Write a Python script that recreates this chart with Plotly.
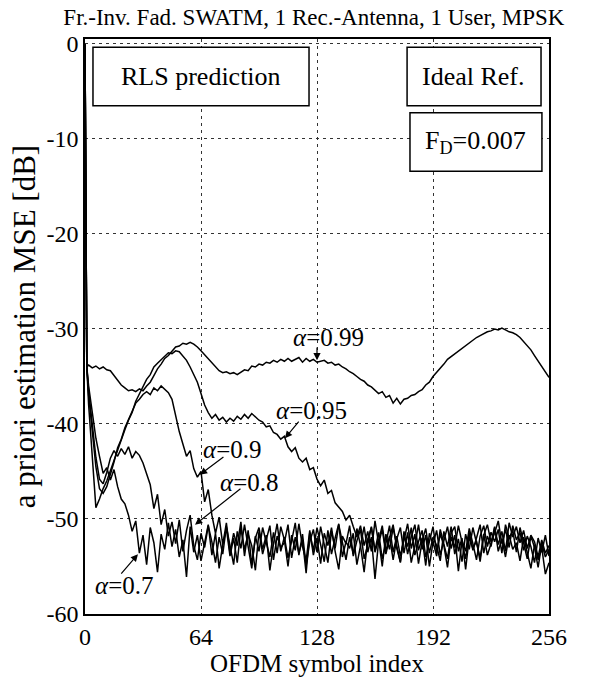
import plotly.graph_objects as go

# OFDM symbol index: 0, 1, then every 2nd symbol
symbol_index = [0, 1] + list(range(2, 257, 2))

mse_099 = [0, -34.0,
    -33.8, -34.1, -33.9, -34.2, -34.0, -34.3, -34.4, -34.9,
    -35.4, -35.9, -36.2, -36.5, -36.4, -36.6, -36.3, -36.5,
    -36.0, -35.6, -34.9, -34.2, -33.7, -33.1, -32.8, -32.3,
    -31.9, -31.8, -31.5, -31.6, -31.4, -31.6, -31.9, -32.3,
    -32.7, -33.1, -33.6, -34.0, -34.4, -34.6, -34.5, -34.7,
    -34.6, -34.8, -34.5, -34.3, -34.4, -33.9, -34.0, -33.7,
    -33.8, -33.5, -33.6, -33.3, -33.5, -33.2, -33.4, -33.1,
    -33.4, -33.2, -33.0, -33.5, -33.1, -33.4, -33.2, -33.5,
    -33.4, -33.3, -33.6, -33.5, -33.8, -33.7, -34.0, -34.2,
    -34.5, -34.7, -35.0, -35.3, -35.5, -35.9, -36.1, -36.4,
    -36.8, -36.6, -37.2, -37.0, -37.8, -37.3, -37.9, -37.4,
    -37.3, -37.0, -36.9, -36.6, -36.4, -35.9, -35.6, -35.0,
    -34.6, -34.1, -33.7, -33.2, -32.9, -32.6, -32.3, -32.0,
    -31.8, -31.5, -31.2, -30.9, -30.7, -30.5, -30.3, -30.2,
    -30.0, -30.1, -29.9, -30.1, -30.3, -30.4, -30.6, -30.9,
    -31.3, -31.7, -32.2, -32.8, -33.4, -33.9, -34.5, -35.1]

mse_095 = [0, -34.0,
    -38.0, -44.0, -48.8, -47.9, -46.8, -46.0, -44.9, -43.8,
    -42.6, -41.5, -40.6, -39.6, -38.8, -37.6, -36.8, -36.0,
    -35.3, -34.8, -34.0, -33.6, -33.2, -32.9, -32.5, -32.6,
    -32.3, -32.4, -32.8, -33.3, -34.0, -34.8, -35.6, -36.8,
    -38.0, -38.8, -39.4, -39.0, -39.6, -39.3, -39.8, -39.4,
    -39.7, -39.2, -39.5, -39.0, -39.4, -38.9, -39.3, -39.6,
    -39.8, -40.3, -40.2, -40.9, -41.1, -41.6, -41.3, -42.4,
    -42.9, -42.5, -43.6, -44.0, -43.6, -44.8, -44.6, -45.8,
    -46.5, -45.9, -47.3, -47.0, -48.3, -48.7, -49.2, -50.1,
    -49.6, -50.8, -51.9, -50.7, -52.8, -51.3, -53.4, -50.2,
    -52.6, -51.1, -53.7, -52.0, -50.6, -53.1, -54.5, -51.8,
    -52.9, -50.9, -53.8, -52.4, -51.2, -54.0, -52.3, -50.8,
    -53.5, -51.6, -52.8, -55.1, -51.9, -53.0, -50.7, -52.6,
    -54.2, -51.4, -53.3, -52.0, -50.6, -53.6, -51.8, -52.9,
    -50.9, -52.7, -51.3, -53.4, -50.4, -51.9, -50.8, -52.5,
    -51.2, -53.1, -51.7, -52.4, -54.0, -52.2, -53.6, -52.8]

mse_090 = [0, -34.0,
    -37.0, -41.0, -44.5, -46.8, -47.3, -46.6, -45.4, -44.0,
    -42.5, -41.6, -40.4, -39.5, -38.6, -37.8, -37.4, -36.9,
    -36.6, -36.9, -36.2, -36.5, -36.0, -36.4, -36.7, -37.4,
    -39.2, -40.8, -42.1, -43.4, -42.8, -44.7, -45.6, -45.0,
    -48.2, -46.9, -49.6, -51.5, -49.8, -52.7, -50.4, -53.6,
    -51.5, -52.8, -50.3, -53.9, -51.2, -54.8, -52.0, -50.9,
    -53.2, -51.7, -55.4, -52.6, -50.5, -53.4, -51.9, -54.1,
    -52.3, -50.4, -53.8, -51.6, -54.9, -52.4, -51.1, -53.5,
    -50.8, -52.9, -54.6, -51.3, -53.1, -50.6, -52.5, -54.3,
    -51.9, -53.7, -51.0, -52.8, -55.6, -52.1, -50.9, -53.3,
    -51.4, -54.2, -52.6, -50.7, -53.5, -51.8, -53.9, -52.2,
    -50.5, -53.1, -51.6, -54.7, -52.3, -51.0, -53.6, -51.9,
    -52.8, -54.4, -51.3, -52.9, -50.8, -53.7, -52.1, -54.5,
    -51.6, -53.2, -50.9, -52.5, -54.1, -51.7, -50.6, -52.4,
    -51.5, -50.2, -52.6, -51.1, -53.0, -50.7, -52.2, -51.4,
    -53.3, -51.8, -52.9, -54.6, -52.0, -53.5, -51.7, -53.9]

mse_080 = [0, -34.0,
    -36.5, -40.0, -43.5, -45.8, -46.3, -45.1, -43.6, -42.8,
    -43.4, -42.6, -43.2, -42.4, -43.6, -42.9, -43.3, -44.1,
    -45.2, -46.4, -48.9, -47.4, -50.6, -49.0, -51.8, -50.3,
    -52.6, -50.1, -53.4, -51.2, -49.6, -52.8, -54.3, -51.5,
    -53.0, -50.7, -52.4, -54.6, -51.9, -53.7, -50.8, -52.9,
    -54.8, -51.3, -53.1, -50.6, -52.7, -55.2, -51.8, -53.4,
    -50.9, -52.5, -54.0, -51.4, -53.6, -50.8, -52.2, -55.0,
    -51.7, -53.3, -50.5, -52.9, -54.4, -51.2, -53.8, -52.0,
    -54.7, -51.5, -52.8, -50.9, -53.4, -55.3, -51.8, -52.6,
    -50.7, -53.9, -52.3, -51.1, -54.2, -52.7, -50.8, -53.5,
    -52.1, -55.0, -51.6, -53.2, -50.9, -52.8, -54.6, -51.3,
    -53.7, -51.9, -50.6, -53.3, -52.0, -54.9, -51.5, -52.7,
    -51.2, -53.8, -52.4, -50.8, -53.1, -51.7, -55.5, -52.3,
    -53.4, -51.0, -52.6, -54.3, -51.8, -50.7, -52.9, -51.4,
    -52.4, -51.1, -53.6, -50.6, -52.0, -51.2, -53.5, -50.9,
    -52.5, -54.2, -51.8, -53.0, -55.1, -52.6, -54.0, -53.2]

mse_070 = [0, -34.0,
    -36.0, -39.0, -41.5, -43.4, -45.2, -44.6, -45.9, -44.8,
    -46.6, -47.9, -48.4, -49.6, -51.3, -50.2, -53.6, -51.7,
    -54.8, -50.9, -52.5, -55.6, -51.6, -53.2, -50.4, -52.9,
    -51.1, -54.0, -52.2, -56.1, -50.8, -53.5, -51.7, -54.4,
    -52.3, -50.6, -53.8, -51.5, -55.2, -52.7, -51.0, -53.9,
    -52.0, -54.6, -50.9, -53.2, -51.6, -52.8, -55.4, -51.3,
    -53.7, -52.1, -50.7, -54.3, -51.8, -53.0, -52.5, -50.6,
    -54.1, -51.9, -53.6, -52.2, -55.7, -51.4, -53.3, -50.9,
    -52.8, -54.5, -51.2, -53.7, -52.0, -50.5, -54.0, -52.4,
    -53.1, -51.5, -54.8, -52.6, -50.8, -53.5, -51.9, -56.3,
    -52.3, -50.7, -53.4, -51.8, -54.3, -52.1, -50.9, -53.6,
    -51.4, -54.6, -52.8, -50.6, -53.2, -51.7, -55.0, -52.4,
    -53.9, -51.1, -52.7, -54.2, -51.5, -50.8, -53.4, -52.0,
    -55.3, -51.9, -53.1, -52.3, -54.5, -51.6, -53.8, -52.6,
    -50.8, -53.4, -52.1, -54.0, -51.7, -53.2, -52.5, -54.4,
    -51.9, -53.6, -55.2, -52.7, -54.3, -53.0, -55.8, -54.6]

series = [("α=0.7", mse_070), ("α=0.8", mse_080), ("α=0.9", mse_090),
          ("α=0.95", mse_095), ("α=0.99", mse_099)]

x_ticks = [0, 64, 128, 192, 256]
y_ticks = [0, -10, -20, -30, -40, -50, -60]
y_ticktext = ["0", "-10", "-20", "-30", "-40", "-50", "-60"]

FONT = "Liberation Serif"

fig = go.Figure()
for name, vals in series:
    fig.add_trace(go.Scatter(x=symbol_index[:len(vals)], y=vals, mode="lines",
                             line=dict(color="black", width=1.5), name=name,
                             showlegend=False))

# boxes
box_style = dict(type="rect", xref="x", yref="y", line=dict(color="black", width=1.5),
                 fillcolor="white", layer="above")
fig.add_shape(x0=4.4, x1=123.6, y0=-0.35, y1=-6.5, **box_style)
fig.add_shape(x0=177.7, x1=251.6, y0=-0.35, y1=-6.5, **box_style)
fig.add_shape(x0=179.3, x1=252.1, y0=-7.25, y1=-13.4, **box_style)

def txt(x, y, t, size):
    fig.add_annotation(x=x, y=y, text=t, showarrow=False, xref="x", yref="y",
                       font=dict(family=FONT, size=size, color="black"))

def arrow(x0, y0, x1, y1):
    fig.add_annotation(x=x1, y=y1, ax=x0, ay=y0, axref="x", ayref="y", xref="x", yref="y",
                       text="", showarrow=True, arrowhead=2, arrowsize=1.2,
                       arrowwidth=1.2, arrowcolor="black")

BOX_FS = 26
LBL_FS = 25
txt(64, -3.4, "RLS prediction", BOX_FS)
txt(214.6, -3.4, "Ideal Ref.", BOX_FS)
txt(215.7, -10.35, "F<sub>D</sub>=0.007", BOX_FS)

txt(134.6, -30.9, "<i>α</i>=0.99", LBL_FS)
arrow(128, -31.8, 128, -33.3)
txt(125.2, -38.6, "<i>α</i>=0.95", LBL_FS)
arrow(118.6, -39.6, 110.3, -41.5)
txt(81.1, -42.7, "<i>α</i>=0.9", LBL_FS)
arrow(77.2, -43.35, 63.4, -45.34)
txt(90.5, -46.2, "<i>α</i>=0.8", LBL_FS)
arrow(86.6, -46.7, 60.7, -50.6)
txt(21.5, -57.0, "<i>α</i>=0.7", LBL_FS)
arrow(19.3, -55.9, 29.2, -53.7)

axis_common = dict(showline=True, linecolor="black", linewidth=1.5, mirror=True,
                   showgrid=True, gridcolor="#333333", griddash="3px,4px", gridwidth=1,
                   zeroline=False, ticks="", tickfont=dict(family=FONT, size=24, color="black"))

fig.update_xaxes(range=[0, 256], tickvals=x_ticks, ticktext=[str(v) for v in x_ticks],
                 title_text="OFDM symbol index", title_standoff=0,
                 title_font=dict(family=FONT, size=25, color="black"), **axis_common)
fig.update_yaxes(range=[-60, 0.52], tickvals=y_ticks, ticktext=y_ticktext,
                 title_text="a priori estimation MSE [dB]", title_standoff=2,
                 title_font=dict(family=FONT, size=31, color="black"), **axis_common)

fig.update_layout(
    width=590, height=679,
    margin=dict(l=85, r=41, t=39, b=62),
    paper_bgcolor="white", plot_bgcolor="white",
    title=dict(text="Fr.-Inv. Fad. SWATM, 1 Rec.-Antenna, 1 User, MPSK",
               x=0.532, xanchor="center", y=0.975, yanchor="middle",
               font=dict(family=FONT, size=23, color="black")),
    font=dict(family=FONT, color="black"),
)

fig.write_html("out.html")
